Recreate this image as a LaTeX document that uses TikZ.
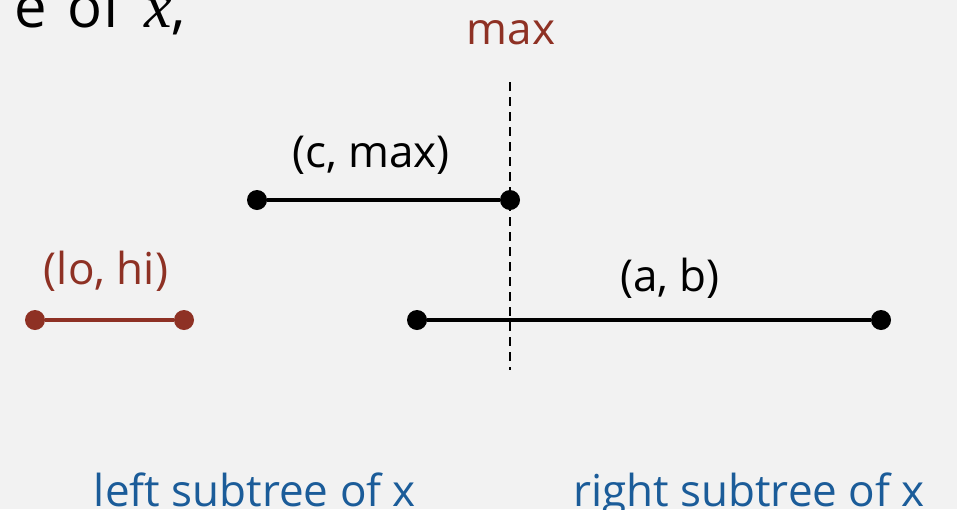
\documentclass[tikz,border=0pt]{standalone}
\usepackage{fontspec}
\setmainfont{Open Sans}
\newfontfamily\seriffont{Liberation Serif}
\definecolor{bg}{HTML}{F2F2F2}
\definecolor{myred}{HTML}{8E3124}
\definecolor{myblue}{HTML}{1B5C99}
\begin{document}
\begin{tikzpicture}[x=1pt,y=-1pt,
  lbl/.style={anchor=base,inner sep=0pt,font=\fontsize{44}{46}\selectfont},
  seg/.style={line width=4pt},
  dot/.style={circle,fill,inner sep=0pt,minimum size=20pt},
  sub/.style={anchor=base,inner sep=0pt,text=myblue,font=\fontsize{44}{48}\selectfont}]
\useasboundingbox[fill=bg] (0,0) rectangle (957,509);
\node[anchor=base east,inner sep=0pt,font=\fontsize{58}{62}\selectfont] (title) at (186,27) {e\hspace{20pt}of\hspace{22pt}{\seriffont\itshape\fontsize{62}{66}\selectfont x},};
\node[lbl,text=myred] (maxl) at (511,44) {max};
\coordinate (dtop) at (510,82);
\coordinate (dbot) at (510,370);
\draw[line width=2pt,dash pattern=on 9pt off 6pt] (dtop) -- (dbot);
% (c, max)
\node[dot] (c1) at (257,200) {};
\node[dot] (c2) at (510,200) {};
\draw[seg] (c1) -- (c2);
\node[lbl] (cl) at (371,167) {(c, max)};
% (lo, hi)
\node[dot,fill=myred] (l1) at (35,320) {};
\node[dot,fill=myred] (l2) at (184,320) {};
\draw[seg,myred] (l1) -- (l2);
\node[lbl,text=myred] (ll) at (106,284) {(lo, hi)};
% (a, b)
\node[dot] (a1) at (417,320) {};
\node[dot] (a2) at (881,320) {};
\draw[seg] (a1) -- (a2);
\node[lbl] (al) at (670,291) {(a, b)};
\node[sub] (ls) at (255,506) {left subtree of x};
\node[sub] (rs) at (749,506) {right subtree of x};
\end{tikzpicture}
\end{document}
